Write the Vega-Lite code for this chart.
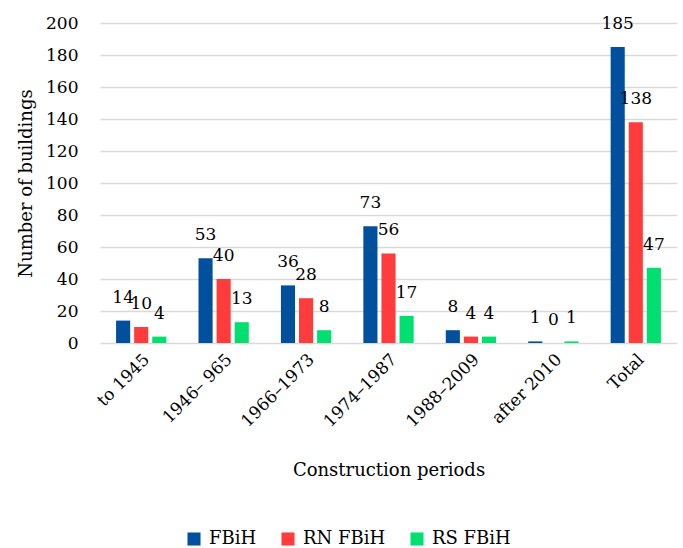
{
  "$schema": "https://vega.github.io/schema/vega-lite/v6.json",
  "width": 577,
  "height": 320,
  "autosize": {"type": "none"},
  "padding": {"left": 100, "top": 23, "right": 6, "bottom": 205},
  "background": "white",
  "config": {
    "font": "DejaVu Serif",
    "view": {"stroke": null},
    "text": {"font": "DejaVu Serif"},
    "axis": {"labelFont": "DejaVu Serif", "titleFont": "DejaVu Serif", "labelColor": "#000", "titleColor": "#000", "titleFontWeight": "normal"},
    "legend": {"labelFont": "DejaVu Serif"}
  },
  "data": {
    "values": [
      {"period": "to 1945", "series": "FBiH", "value": 14},
      {"period": "to 1945", "series": "RN FBiH", "value": 10},
      {"period": "to 1945", "series": "RS FBiH", "value": 4},
      {"period": "1946– 965", "series": "FBiH", "value": 53},
      {"period": "1946– 965", "series": "RN FBiH", "value": 40},
      {"period": "1946– 965", "series": "RS FBiH", "value": 13},
      {"period": "1966–1973", "series": "FBiH", "value": 36},
      {"period": "1966–1973", "series": "RN FBiH", "value": 28},
      {"period": "1966–1973", "series": "RS FBiH", "value": 8},
      {"period": "1974–1987", "series": "FBiH", "value": 73},
      {"period": "1974–1987", "series": "RN FBiH", "value": 56},
      {"period": "1974–1987", "series": "RS FBiH", "value": 17},
      {"period": "1988–2009", "series": "FBiH", "value": 8},
      {"period": "1988–2009", "series": "RN FBiH", "value": 4},
      {"period": "1988–2009", "series": "RS FBiH", "value": 4},
      {"period": "after 2010", "series": "FBiH", "value": 1},
      {"period": "after 2010", "series": "RN FBiH", "value": 0},
      {"period": "after 2010", "series": "RS FBiH", "value": 1},
      {"period": "Total", "series": "FBiH", "value": 185},
      {"period": "Total", "series": "RN FBiH", "value": 138},
      {"period": "Total", "series": "RS FBiH", "value": 47}
    ]
  },
  "encoding": {
    "x": {
      "field": "period", "type": "nominal", "sort": null,
      "scale": {"paddingInner": 0.39, "paddingOuter": 0.195},
      "axis": {"title": "Construction periods", "labelAngle": -45, "labelFontSize": 17, "titleFontSize": 18, "domain": false, "ticks": false, "labelPadding": 8, "titlePadding": 32}
    },
    "xOffset": {"field": "series", "type": "nominal", "scale": {"paddingInner": 0.22, "paddingOuter": 0}},
    "y": {
      "field": "value", "type": "quantitative",
      "scale": {"domain": [0, 200]},
      "axis": {"title": "Number of buildings", "values": [0,20,40,60,80,100,120,140,160,180,200], "labelFontSize": 17, "titleFontSize": 18, "domain": false, "ticks": false, "labelPadding": 22, "gridColor": "#d9d9d9", "gridWidth": 1.5, "titlePadding": 10}
    }
  },
  "layer": [
    {
      "mark": {"type": "bar"},
      "encoding": {
        "color": {
          "field": "series", "type": "nominal",
          "scale": {"domain": ["FBiH", "RN FBiH", "RS FBiH"], "range": ["#00509e", "#ff3b3b", "#00e070"]},
          "legend": {"title": null, "orient": "none", "legendX": 85, "legendY": 507, "direction": "horizontal", "symbolType": "square", "symbolSize": 170, "symbolStrokeWidth": 0, "labelFontSize": 18, "columnPadding": 22, "labelOffset": 6, "labelColor": "#000"}
        }
      }
    },
    {
      "mark": {"type": "text", "baseline": "alphabetic", "dy": -18, "fontSize": 17, "color": "#000"},
      "encoding": {"text": {"field": "value", "type": "quantitative"}}
    }
  ]
}
